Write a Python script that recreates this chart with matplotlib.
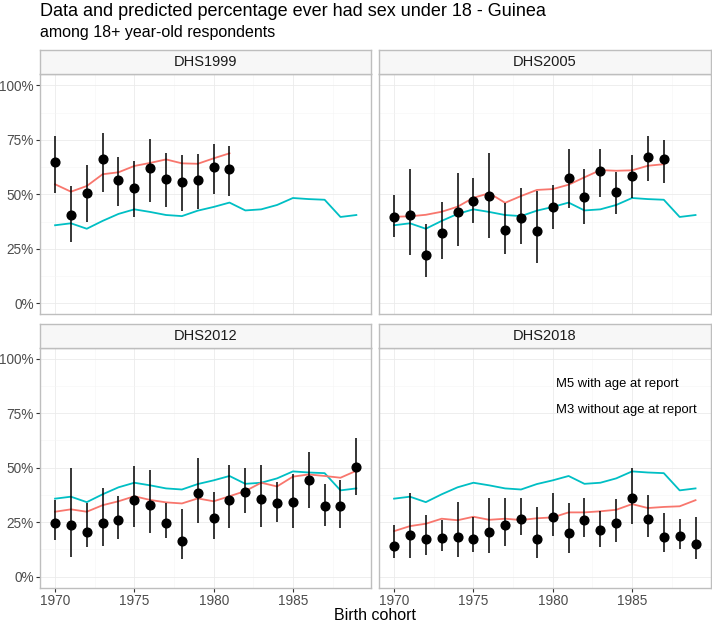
import matplotlib.pyplot as plt
import numpy as np

plt.rcParams['font.family'] = ['Liberation Sans', 'DejaVu Sans']

years = np.arange(1970, 1990)
surveys = ['DHS1999', 'DHS2005', 'DHS2012', 'DHS2018']

# modele M3 (sans age au moment de la declaration), identique pour toutes les enquetes
m3 = [35.8, 36.7, 34.2, 37.8, 41.0, 43.1, 41.9, 40.5, 40.0, 42.5,
      44.2, 46.2, 42.6, 43.1, 45.1, 48.3, 47.8, 47.5, 39.6, 40.5]

# modele M5 (avec age au moment de la declaration)
m5 = {
    'DHS1999': [54.6, 51.2, 53.8, 59.2, 60.1, 63.0, 64.4, 66.0, 64.2, 64.0, 66.5, 68.8],
    'DHS2005': [39.7, 39.9, 40.6, 42.0, 44.3, 48.4, 50.5, 46.1, 49.2, 52.0, 52.4, 54.4,
                57.8, 61.1, 60.8, 61.0, 63.1, 63.8],
    'DHS2012': [29.8, 30.9, 29.8, 32.8, 34.6, 36.9, 35.2, 34.1, 33.6, 35.9, 34.6, 36.9,
                39.3, 43.1, 41.4, 45.9, 46.9, 46.2, 45.4, 48.6],
    'DHS2018': [20.9, 23.2, 24.3, 26.6, 25.9, 27.5, 26.1, 26.6, 26.0, 26.8, 27.2, 29.5,
                29.5, 30.0, 30.7, 33.3, 31.5, 32.0, 32.3, 35.1],
}

# donnees observees : valeur, borne basse, borne haute
obs = {
    'DHS1999': [65.0, 40.5, 50.5, 66.0, 56.4, 52.7, 61.9, 57.2, 55.6, 56.4, 62.4, 61.6],
    'DHS2005': [39.7, 40.4, 22.2, 32.1, 42.0, 47.1, 49.4, 33.5, 39.1, 33.0, 44.0, 57.6,
                48.9, 60.7, 50.9, 58.4, 67.2, 66.0],
    'DHS2012': [24.8, 23.7, 20.6, 24.8, 26.0, 35.2, 32.9, 24.8, 16.4, 38.5, 26.8, 35.2,
                38.7, 35.5, 33.6, 34.4, 44.4, 32.4, 32.4, 50.5],
    'DHS2018': [14.2, 19.1, 17.3, 17.9, 18.0, 17.3, 20.5, 23.7, 26.6, 17.1, 27.2, 19.9,
                26.0, 21.4, 24.5, 35.9, 26.6, 18.3, 18.7, 15.2],
}
low = {
    'DHS1999': [50.5, 28.0, 37.2, 51.2, 44.8, 39.7, 46.3, 44.0, 42.5, 43.3, 50.1, 49.2],
    'DHS2005': [30.6, 22.2, 12.2, 20.2, 26.3, 37.0, 29.8, 22.5, 27.1, 18.3, 34.1, 43.6,
                36.2, 48.9, 40.8, 48.3, 56.1, 55.0],
    'DHS2012': [16.8, 9.2, 13.5, 14.1, 17.3, 22.7, 19.9, 17.6, 8.0, 24.8, 17.3, 22.2,
                29.4, 22.7, 25.0, 22.5, 31.7, 23.3, 22.2, 37.5],
    'DHS2018': [8.4, 8.4, 9.9, 11.9, 8.9, 11.2, 10.7, 14.1, 19.1, 8.4, 18.7, 11.0,
                18.0, 13.5, 15.9, 24.0, 18.1, 11.2, 12.8, 8.0],
}
high = {
    'DHS1999': [76.9, 53.9, 63.4, 78.3, 67.1, 65.4, 75.4, 69.1, 67.9, 68.3, 73.1, 72.3],
    'DHS2005': [49.7, 61.5, 36.4, 46.3, 59.6, 57.6, 68.8, 46.1, 53.0, 51.7, 54.3, 70.6,
                61.6, 70.9, 60.4, 67.9, 76.7, 74.9],
    'DHS2012': [35.2, 50.0, 33.9, 40.6, 37.2, 50.8, 48.9, 33.9, 30.9, 54.6, 39.0, 51.2,
                49.7, 51.2, 43.5, 47.2, 57.3, 42.7, 44.4, 63.4],
    'DHS2018': [23.7, 38.3, 28.3, 26.0, 34.2, 27.3, 35.9, 36.2, 35.9, 32.1, 38.2, 33.6,
                36.2, 30.1, 35.7, 50.0, 37.5, 29.4, 26.6, 27.3],
}

W, H = 712, 622
fig = plt.figure(figsize=(W / 100, H / 100), dpi=100)

# positions des panneaux en pixels : gauche, haut, droite, bas
lefts = [40, 379]
rights = [371.4, 710.6]
tops = [74.4, 347.8]
bottoms = [314.2, 587.6]
strip_h = 24

for i, s in enumerate(surveys):
    r, c = divmod(i, 2)
    l, rt, t, b = lefts[c], rights[c], tops[r], bottoms[r]
    ax = fig.add_axes([l / W, 1 - b / H, (rt - l) / W, (b - t) / H])
    n = len(obs[s])
    yrs = years[:n]
    v = np.array(obs[s])
    ax.plot(years, m3, color='#00BFC4', lw=1.3, zorder=3)
    ax.plot(years[:len(m5[s])], m5[s], color='#F8766D', lw=1.3, zorder=3)
    ax.errorbar(yrs, v, yerr=[v - np.array(low[s]), np.array(high[s]) - v],
                fmt='o', color='black', ms=6.3, elinewidth=1.1, capsize=0, zorder=4)
    ax.set_xlim(1969.05, 1989.95)
    ax.set_ylim(-5, 105)
    ax.set_xticks([1970, 1975, 1980, 1985])
    ax.set_xticks([1972.5, 1977.5, 1982.5, 1987.5], minor=True)
    ax.set_yticks([0, 25, 50, 75, 100])
    ax.set_yticks([12.5, 37.5, 62.5, 87.5], minor=True)
    ax.grid(which='major', color='#EBEBEB', lw=0.6)
    ax.grid(which='minor', color='#F5F5F5', lw=0.4)
    ax.set_axisbelow(True)
    for sp in ax.spines.values():
        sp.set_color('#BEBEBE')
        sp.set_linewidth(1.0)
    ax.tick_params(which='minor', length=0)
    ax.tick_params(which='major', length=3, width=0.8, color='#333333',
                   labelsize=9.8, labelcolor='#4D4D4D', pad=1.5)
    if c == 0:
        ax.set_yticklabels(['0%', '25%', '50%', '75%', '100%'])
    else:
        ax.tick_params(axis='y', length=0, labelleft=False)
    if r == 1:
        ax.set_xticklabels(['1970', '1975', '1980', '1985'])
    else:
        ax.tick_params(axis='x', length=0, labelbottom=False)

    # bandeau du panneau
    sax = fig.add_axes([l / W, 1 - t / H, (rt - l) / W, strip_h / H])
    sax.set_facecolor('#F7F7F7')
    sax.set_xticks([])
    sax.set_yticks([])
    for sp in sax.spines.values():
        sp.set_color('#BEBEBE')
        sp.set_linewidth(1.0)
    sax.text(0.5, 0.5, s, ha='center', va='center', fontsize=10.5, color='#1A1A1A',
             transform=sax.transAxes)

    if s == 'DHS2018':
        ax.text(0.535, 0.847, 'M5 with age at report', transform=ax.transAxes,
                fontsize=9.4, va='center', ha='left', color='black')
        ax.text(0.535, 0.742, 'M3 without age at report', transform=ax.transAxes,
                fontsize=9.4, va='center', ha='left', color='black')

fig.text(40 / W, 1 - 12 / H, 'Data and predicted percentage ever had sex under 18 - Guinea',
         fontsize=13, ha='left', va='center')
fig.text(40 / W, 1 - 33 / H, 'among 18+ year-old respondents',
         fontsize=11.5, ha='left', va='center')
fig.text(375 / W, 1 - 615 / H, 'Birth cohort', fontsize=11.5, ha='center', va='center')

fig.savefig('out.png', dpi=100)
